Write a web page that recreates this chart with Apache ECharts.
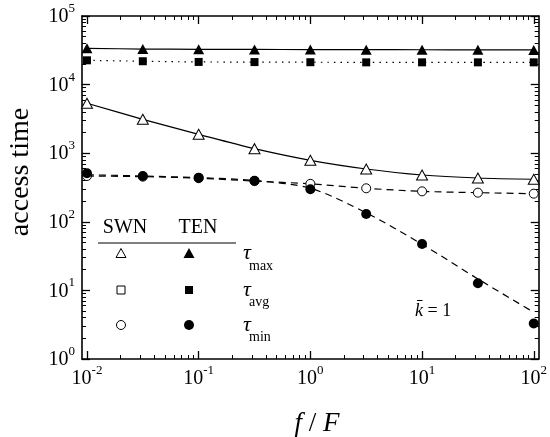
<!DOCTYPE html>
<html>
<head>
<meta charset="utf-8">
<script src="https://cdn.jsdelivr.net/npm/echarts@6/dist/echarts.min.js"></script>
<style>
html,body{margin:0;padding:0;background:#fff;}
#c{width:550px;height:437px;}
</style>
</head>
<body>
<div id="c"></div>
<script>
// ---- data ----
const xs = [0.01, 0.03162, 0.1, 0.3162, 1, 3.162, 10, 31.62, 100];
const tenMax = [33800, 33000, 32700, 32600, 32400, 32300, 32200, 32100, 32000];
const tenAvg = [22600, 21900, 21400, 21300, 21200, 21100, 21100, 21100, 21100];
const swnMax = [5340, 3120, 1885, 1164, 787, 589, 481, 435, 417];
const swnMin = [465, 455, 432, 392, 358, 308, 278, 266, 257];
const tenMin = [509, 465, 440, 397, 298, 130, 47.5, 12.7, 3.3];
const tenMinFit = [485, 465, 440, 400, 308, 135, 47, 14.7, 4.8];
const xTickPowers = [-2, -1, 0, 1, 2];
const yTickPowers = [0, 1, 2, 3, 4, 5];

const FONT = 'Liberation Serif';
const pair = arr => xs.map((x, i) => [x, arr[i]]);

function majors(pows) { return pows.map(p => Math.pow(10, p)); }
function minors(pows) {
  const out = [];
  for (let i = 0; i < pows.length - 1; i++) {
    for (let k = 2; k <= 9; k++) out.push(k * Math.pow(10, pows[i]));
  }
  return out;
}

function powLabel(v) {
  const l = Math.log10(v);
  const r = Math.round(l);
  if (Math.abs(l - r) > 1e-6) return '';
  return '{b|10}{e|' + (r < 0 ? '-' + (-r) : r) + '}';
}
const rich = {
  b: {fontSize: 20, fontFamily: FONT, color: '#000', lineHeight: 22, verticalAlign: 'bottom'},
  e: {fontSize: 13, fontFamily: FONT, color: '#000', lineHeight: 13, verticalAlign: 'bottom', padding: [0, 0, 12, 0]}
};

const pad = Math.pow(10, 5 / 112.5);
const xMin = Math.pow(10, xTickPowers[0]) / pad;
const xMax = Math.pow(10, xTickPowers[xTickPowers.length - 1]) * pad;
const yMin = Math.pow(10, yTickPowers[0]);
const yMax = Math.pow(10, yTickPowers[yTickPowers.length - 1]);

function ax(kind, pos, isMajor, labels) {
  const pows = kind === 'x' ? xTickPowers : yTickPowers;
  return {
    type: 'log', logBase: 10, position: pos,
    min: kind === 'x' ? xMin : yMin, max: kind === 'x' ? xMax : yMax,
    axisLine: {show: isMajor, onZero: false, lineStyle: {color: '#000', width: 1.6}},
    axisTick: {show: true, inside: true, length: isMajor ? 8 : 4,
      customValues: isMajor ? majors(pows) : minors(pows),
      lineStyle: {color: '#000', width: isMajor ? 1.3 : 1}},
    minorTick: {show: false},
    splitLine: {show: false},
    axisLabel: {show: labels, margin: kind === 'x' ? 8 : 7, fontFamily: FONT, fontSize: 20, color: '#000',
      customValues: majors(pows), formatter: powLabel, rich: rich}
  };
}

const LW = 1.2;
const openStyle = {color: '#fff', borderColor: '#000', borderWidth: 1, opacity: 1};
const fillStyle = {color: '#000', borderColor: '#000', borderWidth: 0, opacity: 1};

const option = {
  animation: false,
  backgroundColor: '#fff',
  grid: {left: 82, right: 8, top: 16, bottom: 78, containLabel: false},
  xAxis: [ax('x', 'bottom', true, true), ax('x', 'top', true, false), ax('x', 'bottom', false, false), ax('x', 'top', false, false)],
  yAxis: [ax('y', 'left', true, true), ax('y', 'right', true, false), ax('y', 'left', false, false), ax('y', 'right', false, false)],
  series: [
    {type: 'line', name: 'SWN max', data: pair(swnMax), smooth: 0.3,
     symbol: 'triangle', symbolSize: [11, 10], itemStyle: openStyle,
     lineStyle: {color: '#000', width: LW}, z: 3},
    {type: 'line', name: 'SWN min', data: pair(swnMin), smooth: 0.3,
     symbol: 'circle', symbolSize: 9, itemStyle: openStyle,
     lineStyle: {color: '#000', width: LW, type: [7, 5]}, z: 3},
    {type: 'line', name: 'TEN max', data: pair(tenMax), smooth: 0.3,
     symbol: 'triangle', symbolSize: [11, 10], itemStyle: fillStyle,
     lineStyle: {color: '#000', width: LW}, z: 4},
    {type: 'line', name: 'TEN avg', data: pair(tenAvg), smooth: 0.3,
     symbol: 'rect', symbolSize: 8, itemStyle: fillStyle,
     lineStyle: {color: '#000', width: LW, type: [1.5, 5]}, z: 4},
    {type: 'line', name: 'TEN min fit', data: pair(tenMinFit), smooth: 0.3,
     showSymbol: false, symbol: 'none',
     lineStyle: {color: '#000', width: LW, type: [7, 5]}, z: 4},
    {type: 'scatter', name: 'TEN min', data: pair(tenMin),
     symbol: 'circle', symbolSize: 10, itemStyle: fillStyle, z: 5}
  ],
  graphic: [
    {type: 'text', x: 21, y: 172, rotation: Math.PI / 2,
     style: {text: 'access time', font: '28px ' + FONT, fill: '#000', align: 'center', verticalAlign: 'middle'}},
    {type: 'text', x: 317, y: 424,
     style: {text: '{i|f} / {i|F}', fill: '#000', align: 'center', verticalAlign: 'middle',
       rich: {i: {fontStyle: 'italic', fontSize: 27, fontFamily: FONT}}, font: '27px ' + FONT}},
    // legend table
    {type: 'text', x: 125, y: 228, style: {text: 'SWN', font: '20px ' + FONT, fill: '#000', align: 'center', verticalAlign: 'middle'}},
    {type: 'text', x: 198, y: 228, style: {text: 'TEN', font: '20px ' + FONT, fill: '#000', align: 'center', verticalAlign: 'middle'}},
    {type: 'line', shape: {x1: 98, y1: 243, x2: 236, y2: 243}, style: {stroke: '#000', lineWidth: 1}},
    {type: 'polygon', shape: {points: [[121, 248.5], [126, 257.5], [116, 257.5]]}, style: {fill: '#fff', stroke: '#000', lineWidth: 1}},
    {type: 'polygon', shape: {points: [[189, 248], [194.5, 258], [183.5, 258]]}, style: {fill: '#000'}},
    {type: 'rect', shape: {x: 117, y: 286, width: 8, height: 8}, style: {fill: '#fff', stroke: '#000', lineWidth: 1}},
    {type: 'rect', shape: {x: 185, y: 286, width: 8, height: 8}, style: {fill: '#000'}},
    {type: 'circle', shape: {cx: 121, cy: 325, r: 4.5}, style: {fill: '#fff', stroke: '#000', lineWidth: 1}},
    {type: 'circle', shape: {cx: 189, cy: 325, r: 5}, style: {fill: '#000'}},
    {type: 'text', x: 243, y: 253, style: {text: 'τ', font: 'italic 22px ' + FONT, fill: '#000', align: 'left', verticalAlign: 'middle'}},
    {type: 'text', x: 249, y: 266, style: {text: 'max', font: '14px ' + FONT, fill: '#000', align: 'left', verticalAlign: 'middle'}},
    {type: 'text', x: 243, y: 290, style: {text: 'τ', font: 'italic 22px ' + FONT, fill: '#000', align: 'left', verticalAlign: 'middle'}},
    {type: 'text', x: 249, y: 302, style: {text: 'avg', font: '14px ' + FONT, fill: '#000', align: 'left', verticalAlign: 'middle'}},
    {type: 'text', x: 243, y: 325, style: {text: 'τ', font: 'italic 22px ' + FONT, fill: '#000', align: 'left', verticalAlign: 'middle'}},
    {type: 'text', x: 249, y: 337, style: {text: 'min', font: '14px ' + FONT, fill: '#000', align: 'left', verticalAlign: 'middle'}},
    {type: 'text', x: 415, y: 311,
     style: {text: '{i|k\u0304} = 1', font: '18px ' + FONT, fill: '#000', align: 'left', verticalAlign: 'middle',
       rich: {i: {fontStyle: 'italic', fontSize: 18, fontFamily: FONT}}}}
  ]
};

const chart = echarts.init(document.getElementById('c'), null, {renderer: 'canvas'});
chart.setOption(option);
</script>
</body>
</html>
